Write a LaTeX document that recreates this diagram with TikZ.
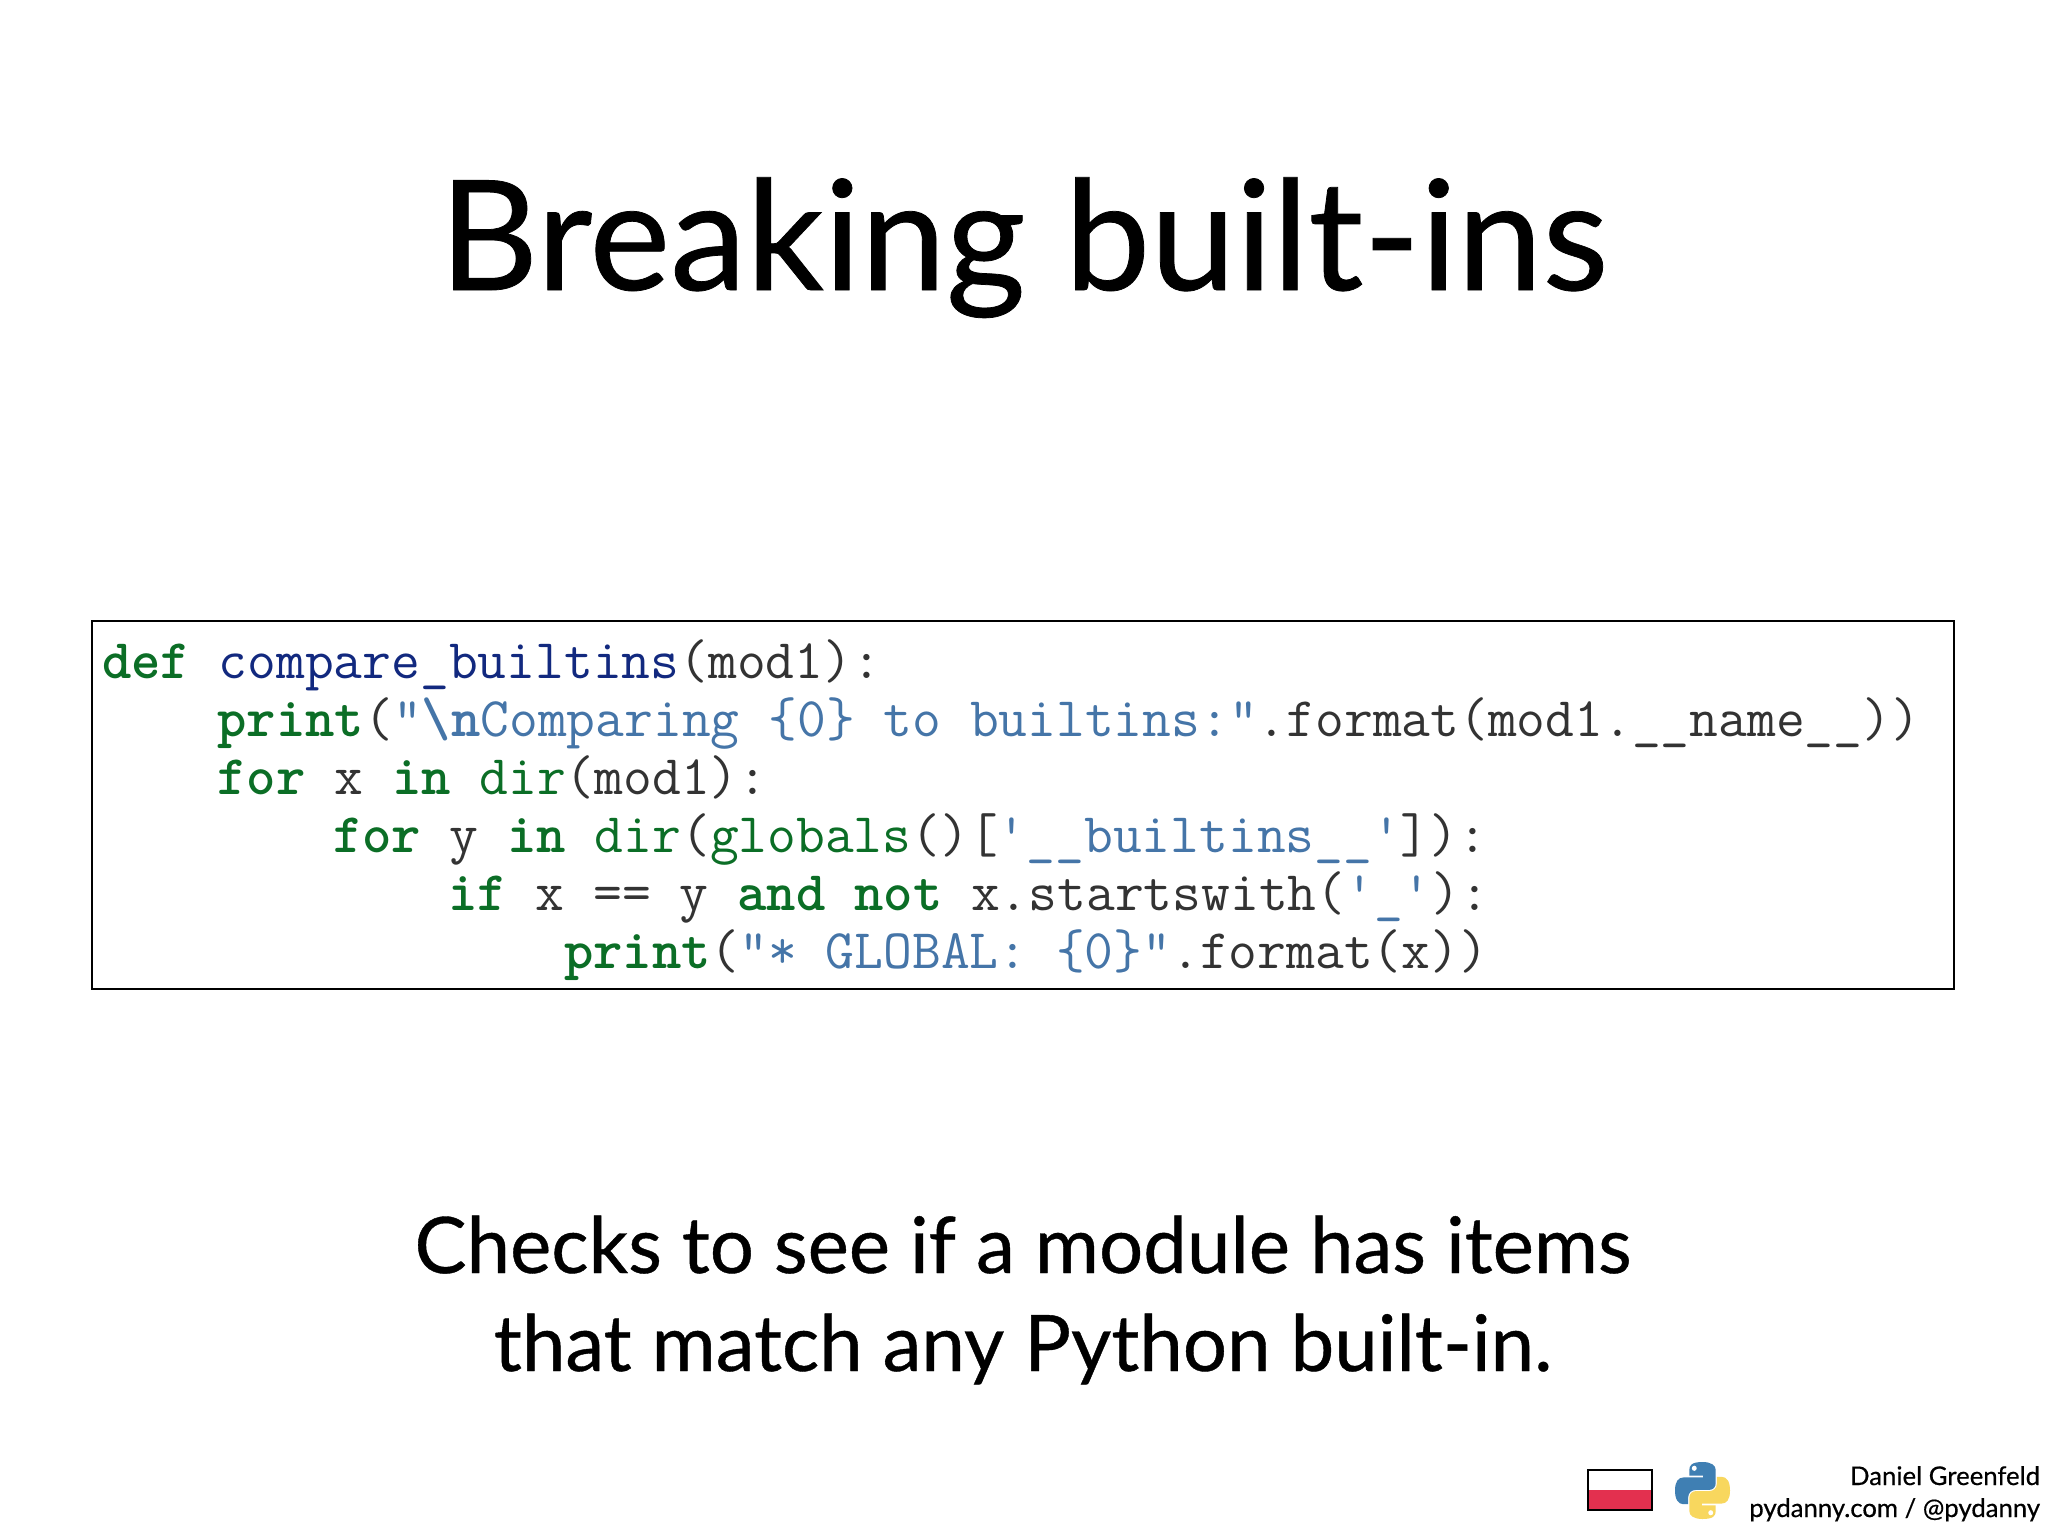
\documentclass[tikz,border=0pt]{standalone}
\usepackage{fontspec}
\setmainfont{Lato}[FakeBold=0.5]
\definecolor{kw}{HTML}{0B6E26}
\definecolor{fn}{HTML}{12297F}
\definecolor{st}{HTML}{4575A8}
\definecolor{tx}{HTML}{333333}
\definecolor{flagred}{HTML}{E3304F}
\definecolor{logoblue}{HTML}{3F7FB3}
\definecolor{logoyellow}{HTML}{F8D75E}
\newcommand{\K}[1]{\textcolor{kw}{\bfseries #1}}
\newcommand{\B}[1]{\textcolor{kw}{#1}}
\newcommand{\F}[1]{\textcolor{fn}{#1}}
\newcommand{\St}[1]{\textcolor{st}{#1}}
\newcommand{\Snake}{(50,0) .. controls (30,0) and (26,6) .. (26,14) -- (26,24) -- (51,24) -- (51,27) -- (16,27) .. controls (6,27) and (0,34) .. (0,50) .. controls (0,66) and (6,74) .. (15,74) -- (24,74) -- (24,62) .. controls (24,54) and (30,49) .. (38,49) -- (62,49) .. controls (69,49) and (74,44) .. (74,37) -- (74,14) .. controls (74,6) and (66,0) .. (50,0) -- cycle}
\tikzset{
  px/.style={x=1pt,y=-1pt},
  txt/.style={inner sep=0pt,outer sep=0pt,text=black},
  codeline/.style={inner sep=0pt,outer sep=0pt,anchor=base west,text=tx,font=\ttfamily\fontsize{55.9}{58}\selectfont},
}
\begin{document}
\begin{tikzpicture}[px]
\useasboundingbox (0,0) rectangle (2048,1536);
\fill[white] (0,0) rectangle (2048,1536);
\node[txt,anchor=base,font=\fontsize{153}{180}\selectfont] (title) at (1024,290) {Breaking built-ins};
\node[draw=black,line width=2pt,minimum width=1862pt,minimum height=368pt,inner sep=0pt,anchor=north west] (box) at (91,620) {};
\node[codeline] (l1) at (102,678) {\K{def} \F{compare\_builtins}(mod1):};
\node[codeline] (l2) at (217.6,736) {\K{print}(\St{"}\textcolor{st}{\bfseries\textbackslash n}\St{Comparing \{0\} to builtins:"}.format(mod1.\_\_name\_\_))};
\node[codeline] (l3) at (217.6,794) {\K{for} x \K{in} \B{dir}(mod1):};
\node[codeline] (l4) at (333,852) {\K{for} y \K{in} \B{dir}(\B{globals}()[\St{'\_\_builtins\_\_'}]):};
\node[codeline] (l5) at (448.5,910) {\K{if} x == y \K{and} \K{not} x.startswith(\St{'\_'}):};
\node[codeline] (l6) at (564,968) {\K{print}(\St{"* GLOBAL: \{0\}"}.format(x))};
\node[txt,anchor=base,font=\fontsize{78}{90}\selectfont] (c1) at (1023,1273) {Checks to see if a module has items};
\node[txt,anchor=base,font=\fontsize{78}{90}\selectfont] (c2) at (1023,1371) {that match any Python built-in.};
\node[txt,anchor=base east,font=\fontsize{25.7}{30}\selectfont] (n1) at (2040,1485) {Daniel Greenfeld};
\node[txt,anchor=base east,font=\fontsize{25.7}{30}\selectfont] (n2) at (2040,1517) {pydanny.com / @pydanny};
% flag
\fill[white] (1588,1470) rectangle (1652,1490);
\fill[flagred] (1588,1490) rectangle (1652,1510);
\draw[black,line width=2pt] (1588,1470) rectangle (1652,1510);
% python logo
\begin{scope}[shift={(1675,1462)},x=0.55pt,y=-0.57pt]
  \fill[logoblue] \Snake;
  \fill[white] (35,11) circle[x radius=4.5,y radius=4.5];
  \begin{scope}[shift={(100,100)},x=-0.55pt,y=0.57pt]
    \fill[logoyellow] \Snake;
    \fill[white] (35,11) circle[x radius=4.5,y radius=4.5];
  \end{scope}
\end{scope}
\end{tikzpicture}
\end{document}
